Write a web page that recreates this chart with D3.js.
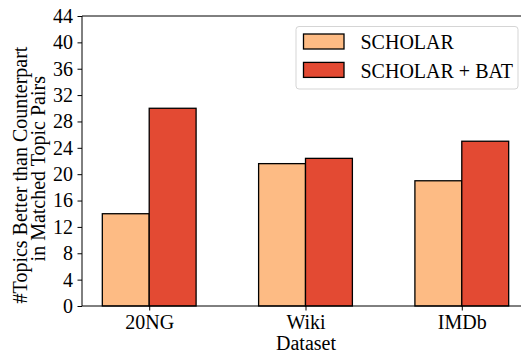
<!DOCTYPE html>
<html>
<head>
<meta charset="utf-8">
<script src="https://cdn.jsdelivr.net/npm/d3@7"></script>
<style>
  html, body { margin: 0; padding: 0; background: #fff; }
  svg { display: block; }
</style>
</head>
<body>
<svg id="chart" width="521" height="353"></svg>
<script>
const categories = ["20NG", "Wiki", "IMDb"];
const seriesNames = ["SCHOLAR", "SCHOLAR + BAT"];
const scholar = [14, 21.6, 19];
const scholarBat = [30, 22.4, 25];
const yTicks = [0, 4, 8, 12, 16, 20, 24, 28, 32, 36, 40, 44];
const colors = ["#FDBB84", "#E34A33"];

(function () {
const FONT = "'Liberation Serif', 'Times New Roman', serif";
const svg = d3.select("#chart");
const mLeft = 82, mRight = 529, mTop = 16, mBottom = 306;
const fs = 20;

// numeric x positions (0,1,2) like matplotlib, xlim -0.43..2.43
const x = d3.scaleLinear().domain([-0.43, 2.43]).range([mLeft, mRight]);
const y = d3.scaleLinear().domain([0, 44]).range([mBottom, mTop]);
const barW = 0.3;

const series = [scholar, scholarBat];
const g = svg.append("g");
series.forEach((vals, si) => {
  g.selectAll(null).data(vals).enter().append("rect")
    .attr("x", (d, i) => x(i + (si === 0 ? -barW : 0)))
    .attr("width", x(barW) - x(0))
    .attr("y", d => y(d))
    .attr("height", d => y(0) - y(d))
    .attr("fill", colors[si])
    .attr("stroke", "#000")
    .attr("stroke-width", 1.3);
});

// axes
const yAxis = d3.axisLeft(y).tickValues(yTicks).tickSize(4.5).tickPadding(4.5);
const ya = svg.append("g").attr("transform", `translate(${mLeft},0)`).call(yAxis);
ya.attr("font-family", null).attr("font-size", null);
ya.select(".domain").remove();

const xAxis = d3.axisBottom(x).tickValues([0, 1, 2]).tickFormat(i => categories[i]).tickSize(4.5).tickPadding(4.6);
const xa = svg.append("g").attr("transform", `translate(0,${mBottom})`).call(xAxis);
xa.attr("font-family", null).attr("font-size", null);
xa.select(".domain").remove();

svg.selectAll(".tick line").attr("stroke", "#000").attr("stroke-width", 1);

// spines
svg.append("line").attr("x1", mLeft).attr("x2", mLeft).attr("y1", mTop).attr("y2", mBottom).attr("stroke", "#000").attr("stroke-width", 1);
svg.append("line").attr("x1", mLeft).attr("x2", 521).attr("y1", mBottom).attr("y2", mBottom).attr("stroke", "#000").attr("stroke-width", 1);
svg.append("line").attr("x1", mLeft).attr("x2", 521).attr("y1", mTop).attr("y2", mTop).attr("stroke", "#000").attr("stroke-width", 1);

// axis titles
svg.append("text").attr("x", 306).attr("y", 350)
  .attr("text-anchor", "middle").text("Dataset");

svg.append("text").attr("transform", "translate(26.5,175) rotate(-90)")
  .attr("text-anchor", "middle").text("#Topics Better than Counterpart");
svg.append("text").attr("transform", "translate(45,76) rotate(-90)")
  .attr("text-anchor", "end").text("in Matched Topic Pairs");

// legend
const lg = svg.append("g");
lg.append("rect").attr("x", 296).attr("y", 26.5).attr("width", 222).attr("height", 62.5)
  .attr("rx", 3).attr("fill", "#fff").attr("fill-opacity", 0.8).attr("stroke", "#d5d5d5").attr("stroke-width", 1);
seriesNames.forEach((name, i) => {
  const yy = 34 + i * 28.4;
  lg.append("rect").attr("x", 303.5).attr("y", yy).attr("width", 40.5).attr("height", 15)
    .attr("fill", colors[i]).attr("stroke", "#000").attr("stroke-width", 1.3);
  lg.append("text").attr("x", 360.5).attr("y", yy + 15.3).text(name);
});

svg.selectAll("text").style("font-family", FONT).style("font-size", fs + "px").attr("fill", "#000");
})();
</script>
</body>
</html>
